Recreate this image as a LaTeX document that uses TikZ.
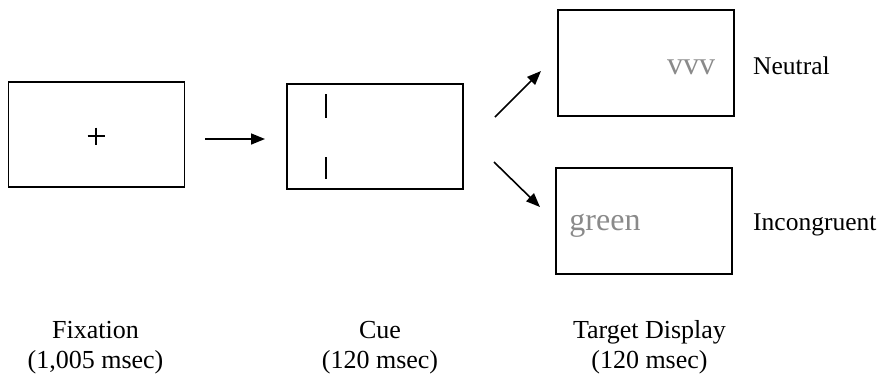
\documentclass[tikz,border=0pt]{standalone}
\usepackage{fontspec}
\setmainfont{Liberation Serif}
\usetikzlibrary{arrows.meta}
\definecolor{stimgray}{HTML}{8A8A8A}
\tikzset{
  screen/.style={draw=black, line width=1.8pt, minimum width=176pt, minimum height=105pt, inner sep=0pt},
  flow/.style={line width=1.6pt, -{Triangle[length=14pt,width=11pt]}},
  mark line/.style={line width=1.6pt},
  stim/.style={text=stimgray, inner sep=0pt, anchor=base, font=\fontsize{32}{36}\selectfont},
  cond/.style={anchor=base west, inner sep=0pt, font=\fontsize{25.5}{30}\selectfont},
  phase/.style={anchor=base, inner sep=0pt, align=center, font=\fontsize{26}{30}\selectfont}
}
\begin{document}
\begin{tikzpicture}[x=1pt, y=-1pt]
  \useasboundingbox (0,0) rectangle (879,376);

  % display screens
  \node[screen] (fix)  at (96.5,134.5) {};
  \node[screen] (cue)  at (375,136.5) {};
  \node[screen, minimum height=106pt] (neu)  at (646,63) {};
  \node[screen, minimum height=106pt] (inc)  at (644,221) {};

  % fixation cross
  \draw[mark line] (87.5,136) -- (104.5,136);
  \draw[mark line] (96,127.5) -- (96,144.5);

  % cue bars
  \draw[mark line] (326,94) -- (326,118);
  \draw[mark line] (326,157) -- (326,179);

  % target stimuli
  \node[stim] (vvv) at (691,74) {vvv};
  \node[stim] (grn) at (605,230) {green};

  % condition labels
  \node[cond] (lneu) at (753,74) {Neutral};
  \node[cond] (linc) at (753,230) {Incongruent};

  % arrows between phases
  \coordinate (a1s) at (205,139);
  \coordinate (a1e) at (265,139);
  \coordinate (a2s) at (495,117);
  \coordinate (a2e) at (541,71);
  \coordinate (a3s) at (494,162);
  \coordinate (a3e) at (540,207);
  \draw[flow] (a1s) -- (a1e);
  \draw[flow] (a2s) -- (a2e);
  \draw[flow] (a3s) -- (a3e);

  % phase labels (anchored at the baseline of the second line)
  \node[phase] (tfix) at (95.5,368) {Fixation\\(1,005 msec)};
  \node[phase] (tcue) at (380,368) {Cue\\(120 msec)};
  \node[phase] (ttgt) at (649.5,368) {Target Display\\(120 msec)};
\end{tikzpicture}
\end{document}
